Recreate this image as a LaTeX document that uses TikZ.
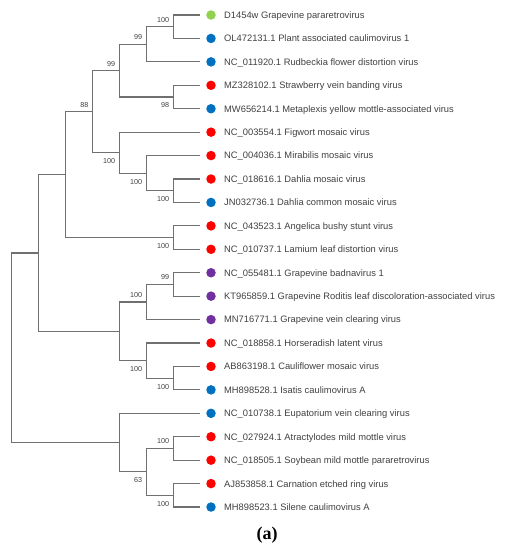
\documentclass[tikz,border=0pt]{standalone}
\usepackage{fontspec}
\newfontfamily\arial{Liberation Sans}
\newfontfamily\capfont{Liberation Serif}
\definecolor{treegray}{HTML}{707070}
\definecolor{labelgray}{HTML}{404040}
\definecolor{vgreen}{HTML}{92D050}
\definecolor{vblue}{HTML}{0070C0}
\definecolor{vred}{HTML}{FF0000}
\definecolor{vpurple}{HTML}{7030A0}
\begin{document}
\begin{tikzpicture}[x=1pt, y=-1pt,
        dot/.style={circle, inner sep=0pt, minimum size=9.5pt, outer sep=6.5pt},
        virus/.style={anchor=base west, inner sep=0pt, yshift=-3.4pt, text=labelgray,
            font=\arial\fontsize{9.35}{11}\selectfont},
        bootstrap/.style={anchor=east, inner sep=0pt, xshift=-4pt, text=labelgray,
            font=\arial\fontsize{7.2}{8}\selectfont},
        bsup/.style={bootstrap, yshift=7pt},
        bsdown/.style={bootstrap, yshift=-8.5pt},
        elbow/.style={to path={|- (\tikztotarget)}}]
    \useasboundingbox (0,0) rectangle (507,550);

    % leaves
    \node[dot, fill=vgreen] (d1) at (211,15.00) {};
    \node[virus] (v1) at (224,15.00) {D1454w Grapevine pararetrovirus};
    \node[dot, fill=vblue] (d2) at (211,38.43) {};
    \node[virus] (v2) at (224,38.43) {OL472131.1 Plant associated caulimovirus 1};
    \node[dot, fill=vblue] (d3) at (211,61.86) {};
    \node[virus] (v3) at (224,61.86) {NC\_011920.1 Rudbeckia flower distortion virus};
    \node[dot, fill=vred] (d4) at (211,85.29) {};
    \node[virus] (v4) at (224,85.29) {MZ328102.1 Strawberry vein banding virus};
    \node[dot, fill=vblue] (d5) at (211,108.72) {};
    \node[virus] (v5) at (224,108.72) {MW656214.1 Metaplexis yellow mottle-associated virus};
    \node[dot, fill=vred] (d6) at (211,132.15) {};
    \node[virus] (v6) at (224,132.15) {NC\_003554.1 Figwort mosaic virus};
    \node[dot, fill=vred] (d7) at (211,155.58) {};
    \node[virus] (v7) at (224,155.58) {NC\_004036.1 Mirabilis mosaic virus};
    \node[dot, fill=vred] (d8) at (211,179.01) {};
    \node[virus] (v8) at (224,179.01) {NC\_018616.1 Dahlia mosaic virus};
    \node[dot, fill=vblue] (d9) at (211,202.44) {};
    \node[virus] (v9) at (224,202.44) {JN032736.1 Dahlia common mosaic virus};
    \node[dot, fill=vred] (d10) at (211,225.87) {};
    \node[virus] (v10) at (224,225.87) {NC\_043523.1 Angelica bushy stunt virus};
    \node[dot, fill=vred] (d11) at (211,249.30) {};
    \node[virus] (v11) at (224,249.30) {NC\_010737.1 Lamium leaf distortion virus};
    \node[dot, fill=vpurple] (d12) at (211,272.73) {};
    \node[virus] (v12) at (224,272.73) {NC\_055481.1 Grapevine badnavirus 1};
    \node[dot, fill=vpurple] (d13) at (211,296.16) {};
    \node[virus] (v13) at (224,296.16) {KT965859.1 Grapevine Roditis leaf discoloration-associated virus};
    \node[dot, fill=vpurple] (d14) at (211,319.59) {};
    \node[virus] (v14) at (224,319.59) {MN716771.1 Grapevine vein clearing virus};
    \node[dot, fill=vred] (d15) at (211,343.02) {};
    \node[virus] (v15) at (224,343.02) {NC\_018858.1 Horseradish latent virus};
    \node[dot, fill=vred] (d16) at (211,366.45) {};
    \node[virus] (v16) at (224,366.45) {AB863198.1 Cauliflower mosaic virus};
    \node[dot, fill=vblue] (d17) at (211,389.88) {};
    \node[virus] (v17) at (224,389.88) {MH898528.1 Isatis caulimovirus A};
    \node[dot, fill=vblue] (d18) at (211,413.31) {};
    \node[virus] (v18) at (224,413.31) {NC\_010738.1 Eupatorium vein clearing virus};
    \node[dot, fill=vred] (d19) at (211,436.74) {};
    \node[virus] (v19) at (224,436.74) {NC\_027924.1 Atractylodes mild mottle virus};
    \node[dot, fill=vred] (d20) at (211,460.17) {};
    \node[virus] (v20) at (224,460.17) {NC\_018505.1 Soybean mild mottle pararetrovirus};
    \node[dot, fill=vred] (d21) at (211,483.60) {};
    \node[virus] (v21) at (224,483.60) {AJ853858.1 Carnation etched ring virus};
    \node[dot, fill=vblue] (d22) at (211,507.03) {};
    \node[virus] (v22) at (224,507.03) {MH898523.1 Silene caulimovirus A};

    % internal nodes
    \coordinate (nA) at (173.3,26.72);
    \coordinate (nB) at (146.4,44.29);
    \coordinate (nC) at (173.3,97.01);
    \coordinate (nD) at (119.4,70.65);
    \coordinate (nG) at (173.3,190.73);
    \coordinate (nF) at (146.4,173.15);
    \coordinate (nE) at (119.4,152.65);
    \coordinate (nDE) at (92.5,111.65);
    \coordinate (nH) at (173.3,237.59);
    \coordinate (nY) at (65.6,174.62);
    \coordinate (nI) at (173.3,284.45);
    \coordinate (nJ) at (146.4,302.02);
    \coordinate (nK) at (173.3,378.17);
    \coordinate (nL) at (146.4,360.59);
    \coordinate (nX) at (119.4,331.31);
    \coordinate (nT) at (38.6,252.96);
    \coordinate (nM) at (173.3,448.46);
    \coordinate (nN) at (173.3,495.32);
    \coordinate (nW) at (146.4,471.89);
    \coordinate (nZ) at (119.4,442.60);
    \coordinate (root) at (11.7,347.78);

    % bootstrap values
    \node[bsup] (bA) at (nA) {100};
    \node[bsup] (bB) at (nB) {99};
    \node[bsdown] (bC) at (nC) {98};
    \node[bsup] (bD) at (nD) {99};
    \node[bsdown] (bE) at (nE) {100};
    \node[bsdown] (bF) at (nF) {100};
    \node[bsdown] (bG) at (nG) {100};
    \node[bsup] (bDE) at (nDE) {88};
    \node[bsdown] (bH) at (nH) {100};
    \node[bsup] (bI) at (nI) {99};
    \node[bsup] (bJ) at (nJ) {100};
    \node[bsdown] (bL) at (nL) {100};
    \node[bsdown] (bK) at (nK) {100};
    \node[bsup] (bM) at (nM) {100};
    \node[bsdown] (bW) at (nW) {63};
    \node[bsdown] (bN) at (nN) {100};

    \node[font=\capfont\fontsize{18}{21}\selectfont\bfseries] (cap) at (267,535.5) {(a)};

    \path[draw=treegray, line width=1.1pt]
    (nA) edge[elbow] (d1.west)
    (nA) edge[elbow] (d2.west)
    (nB) edge[elbow] (nA)
    (nB) edge[elbow] (d3.west)
    (nC) edge[elbow] (d4.west)
    (nC) edge[elbow] (d5.west)
    (nD) edge[elbow] (nB)
    (nD) edge[elbow] (nC)
    (nG) edge[elbow] (d8.west)
    (nG) edge[elbow] (d9.west)
    (nF) edge[elbow] (d7.west)
    (nF) edge[elbow] (nG)
    (nE) edge[elbow] (d6.west)
    (nE) edge[elbow] (nF)
    (nDE) edge[elbow] (nD)
    (nDE) edge[elbow] (nE)
    (nH) edge[elbow] (d10.west)
    (nH) edge[elbow] (d11.west)
    (nY) edge[elbow] (nDE)
    (nY) edge[elbow] (nH)
    (nI) edge[elbow] (d12.west)
    (nI) edge[elbow] (d13.west)
    (nJ) edge[elbow] (nI)
    (nJ) edge[elbow] (d14.west)
    (nK) edge[elbow] (d16.west)
    (nK) edge[elbow] (d17.west)
    (nL) edge[elbow] (d15.west)
    (nL) edge[elbow] (nK)
    (nX) edge[elbow] (nJ)
    (nX) edge[elbow] (nL)
    (nT) edge[elbow] (nY)
    (nT) edge[elbow] (nX)
    (nM) edge[elbow] (d19.west)
    (nM) edge[elbow] (d20.west)
    (nN) edge[elbow] (d21.west)
    (nN) edge[elbow] (d22.west)
    (nW) edge[elbow] (nM)
    (nW) edge[elbow] (nN)
    (nZ) edge[elbow] (d18.west)
    (nZ) edge[elbow] (nW)
    (root) edge[elbow] (nT)
    (root) edge[elbow] (nZ);
\end{tikzpicture}
\end{document}
